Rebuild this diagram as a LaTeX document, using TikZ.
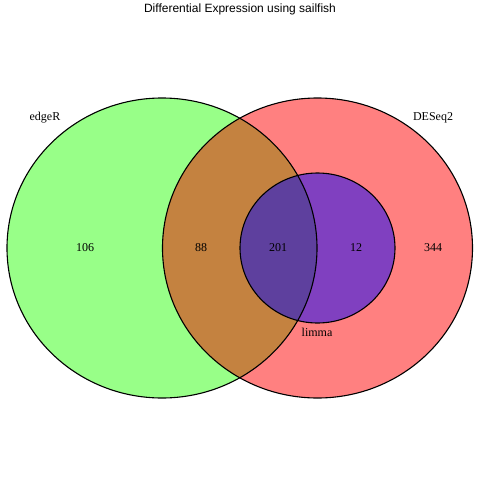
\documentclass[tikz,border=0pt]{standalone}
\usepackage{fontspec}
\setmainfont{Liberation Serif}
\newfontfamily\titlefont{Liberation Sans}
\usetikzlibrary{positioning}
\definecolor{setEdge}{RGB}{152, 255, 136}
\definecolor{setDESeq}{RGB}{255, 128, 128}
\definecolor{setBoth}{RGB}{196, 130, 64}
\definecolor{setLimma}{RGB}{128, 64, 192}
\definecolor{setAll}{RGB}{94, 64, 158}
\begin{document}
\begin{tikzpicture}[x=1pt, y=-1pt, font=\fontsize{12}{14}\selectfont,
    rim/.style={draw=black, line width=1.1pt}]
  \useasboundingbox (0,0) rectangle (480,480);
  % Regions
  \fill[setEdge] (162,248) ellipse [x radius=155, y radius=150];
  \fill[setDESeq] (317.5,248) ellipse [x radius=155, y radius=150];
  \begin{scope}
    \clip (162,248) ellipse [x radius=155, y radius=150];
    \fill[setBoth] (317.5,248) ellipse [x radius=155, y radius=150];
  \end{scope}
  \fill[setLimma] (317.5,248) ellipse [x radius=77.5, y radius=75];
  \begin{scope}
    \clip (162,248) ellipse [x radius=155, y radius=150];
    \fill[setAll] (317.5,248) ellipse [x radius=77.5, y radius=75];
  \end{scope}
  % Outlines
  \draw[rim] (162,248) ellipse [x radius=155, y radius=150];
  \draw[rim] (317.5,248) ellipse [x radius=155, y radius=150];
  \draw[rim] (317.5,248) ellipse [x radius=77.5, y radius=75];
  % Labels
  \node[font=\titlefont\fontsize{12}{14}\selectfont] (title) at (240,9) {Differential Expression using sailfish};
  \node (edgeR) at (45,118) {edgeR};
  \node (DESeq) at (433,118) {DESeq2};
  \node (limma) at (317,332) {limma};
  \foreach \x/\n/\lbl in {85/106/a, 201/88/b, 278/201/c, 356/12/d, 433/344/e}
    \node (N\lbl) at (\x,248) {\n};
\end{tikzpicture}
\end{document}
